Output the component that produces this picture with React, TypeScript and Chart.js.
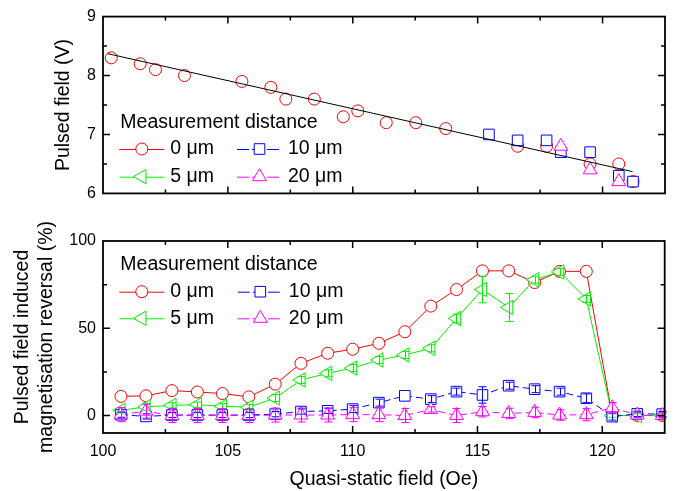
import React, { useEffect, useRef } from 'react';
import { Chart, registerables } from 'chart.js';
import { drawPoint } from 'chart.js/helpers';

Chart.register(...registerables);

const FONT = '"Liberation Sans", Arial, Helvetica, sans-serif';

// ---------- ticks ----------
const xMajorTicks = [100, 105, 110, 115, 120];
const xMinorTicks = [102.5, 107.5, 112.5, 117.5, 122.5];
const topYMajorTicks = [6, 7, 8, 9];
const topYMinorTicks = [6.5, 7.5, 8.5];
const botYMajorTicks = [0, 50, 100];
const botYMinorTicks = [25, 75];

// ---------- labels ----------
const seriesLabels = ['0 μm', '5 μm', '10 μm', '20 μm'];
const legendTitle = 'Measurement distance';
const xTitle = 'Quasi-static field (Oe)';
const topYTitle = 'Pulsed field (V)';
const botYTitle = ['Pulsed field induced', 'magnetisation reversal (%)'];

// ---------- top panel data ----------
const topRedX = [100.33, 101.49, 102.1, 103.26, 105.56, 106.72, 107.32, 108.46, 109.62, 110.2, 111.34, 112.52, 113.72, 116.6, 117.76, 119.5, 120.65, 121.22];
const topRedY = [8.3, 8.2, 8.1, 8.0, 7.9, 7.8, 7.6, 7.6, 7.3, 7.4, 7.2, 7.2, 7.1, 6.8, 6.8, 6.5, 6.5, 6.2];
const topBlueX = [115.45, 116.6, 117.76, 118.33, 119.5, 120.65, 121.22];
const topBlueY = [7.0, 6.9, 6.9, 6.7, 6.7, 6.3, 6.2];
const topMagentaX = [118.33, 119.5, 120.65];
const topMagentaY = [6.8, 6.4, 6.2];
const fitX = [100.2, 121.2];
const fitY = [8.37, 6.37];

// ---------- bottom panel data ----------
const botX = [100.72, 101.72, 102.76, 103.78, 104.78, 105.84, 106.9, 107.93, 109.0, 110.0, 111.05, 112.09, 113.13, 114.16, 115.2, 116.25, 117.29, 118.29, 119.36, 120.4, 121.4, 122.4];
const botRed = [11, 11.3, 14.3, 13.5, 12.6, 10.7, 18, 29.9, 35.7, 38, 41.4, 48, 62.7, 72.2, 82.9, 82.9, 76.2, 82.6, 82.6, 0, 0, 0];
const botGreen = [3, 5, 5.8, 6.2, 5.3, 4.8, 10, 20.4, 24.2, 27.2, 31.8, 34.7, 38.5, 55.6, 72.2, 61.9, 77.8, 82.3, 66.8, 0, 0, 0];
const botBlue = [0.5, -0.5, 0.3, 0.3, 0.3, 0.3, 0.8, 2.3, 2.7, 3.7, 7.4, 11.3, 9.4, 13.7, 11.8, 17.1, 15.1, 13.7, 9.9, -0.6, 1.0, 0.8];
const botMagenta = [0.5, 2.5, 0, 0, 0, 0, 0.3, 0.3, 0.3, 0.5, 0.5, 0, 3.5, 0, 2.2, 1.2, 1.8, 0.3, 0.5, 4.5, 0.3, 0];
const botGreenErr = [1.5, 2, 1.5, 1.5, 1.5, 1.5, 2, 2, 2, 2, 2, 2, 2, 2.5, 7.6, 8, 2, 2, 2, 1, 1, 1];
const botBlueErr = [1.5, 1.5, 1.5, 1.5, 1.5, 1.5, 1.5, 1.5, 1.5, 2, 2, 0, 2, 2, 4.7, 2, 2, 2, 2.5, 2, 1.5, 1.5];
const botMagentaErr = [4, 4, 4, 4, 4, 4, 4, 4, 4, 4, 4, 4, 1.5, 4, 3, 3, 3, 3, 3.5, 3, 1.5, 1.5];

const seriesStyles = [
  { color: '#ff0000', pointStyle: 'circle', radius: 6, rotation: 0, dash: [] as number[], legendDash: [] as number[] },
  { color: '#00f000', pointStyle: 'triangle', radius: 8.3, rotation: -90, dash: [] as number[], legendDash: [] as number[] },
  { color: '#0000ff', pointStyle: 'rect', radius: 7.5, rotation: 0, dash: [7, 4], legendDash: [12, 3] },
  { color: '#ff00ff', pointStyle: 'triangle', radius: 8, rotation: 0, dash: [7, 4], legendDash: [12, 3] },
];
const legendGrid = [0, 2, 1, 3];

const errorBarPlugin = {
  id: 'errorBars',
  afterDatasetsDraw(chart: any) {
    const { ctx, scales } = chart;
    ctx.save();
    chart.data.datasets.forEach((ds: any) => {
      if (!ds.errorBars) return;
      ctx.strokeStyle = ds.borderColor;
      ctx.lineWidth = 1;
      ctx.setLineDash([]);
      ds.data.forEach((p: any, i: number) => {
        const e = ds.errorBars[i];
        if (!e) return;
        const px = Math.round(scales.x.getPixelForValue(p.x)) + 0.5;
        const yt = scales.y.getPixelForValue(p.y + e);
        const yb = scales.y.getPixelForValue(p.y - e);
        ctx.beginPath();
        ctx.moveTo(px, yt); ctx.lineTo(px, yb);
        ctx.moveTo(px - 4, yt); ctx.lineTo(px + 4, yt);
        ctx.moveTo(px - 4, yb); ctx.lineTo(px + 4, yb);
        ctx.stroke();
      });
    });
    ctx.restore();
  },
};

const legendPlugin = {
  id: 'customLegend',
  afterDatasetsDraw(chart: any, _args: any, opts: any) {
    if (!opts || !opts.show) return;
    const ctx = chart.ctx;
    ctx.save();
    ctx.font = `19.5px ${FONT}`;
    ctx.textBaseline = 'middle';
    ctx.textAlign = 'left';
    ctx.fillStyle = '#000';
    ctx.fillText(legendTitle, opts.x + 1, opts.titleY);
    legendGrid.forEach((idx, k) => {
      const col = k % 2;
      const row = Math.floor(k / 2);
      const x0 = opts.x + col * opts.colGap;
      const y0 = opts.rowY[row];
      const st = seriesStyles[idx];
      ctx.strokeStyle = st.color;
      ctx.lineWidth = 1;
      ctx.setLineDash(st.legendDash);
      ctx.beginPath();
      ctx.moveTo(x0, y0 + 0.5);
      ctx.lineTo(x0 + 45, y0 + 0.5);
      ctx.stroke();
      ctx.setLineDash([]);
      ctx.fillStyle = '#ffffff';
      drawPoint(ctx, { pointStyle: st.pointStyle, radius: st.radius, rotation: st.rotation, borderWidth: 1 } as any, x0 + 22.5, y0);
      ctx.fillStyle = '#000';
      ctx.fillText(seriesLabels[idx], x0 + 51, y0);
    });
    ctx.restore();
  },
};

const frameTicksPlugin = {
  id: 'frameTicks',
  afterDraw(chart: any, _args: any, opts: any) {
    const { ctx, chartArea: a, scales } = chart;
    ctx.save();
    ctx.strokeStyle = '#000';
    ctx.setLineDash([]);
    ctx.lineWidth = 1.5;
    const xt = (vals: number[], len: number) => {
      vals.forEach((v) => {
        if (v <= scales.x.min || v >= scales.x.max) return;
        const px = scales.x.getPixelForValue(v);
        ctx.beginPath();
        ctx.moveTo(px, a.bottom); ctx.lineTo(px, a.bottom - len);
        ctx.moveTo(px, a.top); ctx.lineTo(px, a.top + len);
        ctx.stroke();
      });
    };
    const yt = (vals: number[], len: number) => {
      vals.forEach((v) => {
        if (v <= scales.y.min || v >= scales.y.max) return;
        const py = scales.y.getPixelForValue(v);
        ctx.beginPath();
        ctx.moveTo(a.left, py); ctx.lineTo(a.left + len, py);
        ctx.moveTo(a.right, py); ctx.lineTo(a.right - len, py);
        ctx.stroke();
      });
    };
    xt(opts.xMajor, 7); xt(opts.xMinor, 4);
    yt(opts.yMajor, 7); yt(opts.yMinor, 4);
    ctx.lineWidth = 1.8;
    ctx.strokeRect(a.left, a.top, a.right - a.left, a.bottom - a.top);
    ctx.restore();
  },
};

function pts(xs: number[], ys: number[]) {
  return xs.map((x, i) => ({ x, y: ys[i] }));
}

function seriesDataset(idx: number, data: any[], showLine: boolean, errs?: number[]) {
  const st = seriesStyles[idx];
  return {
    label: seriesLabels[idx],
    data,
    showLine,
    borderColor: st.color,
    backgroundColor: '#ffffff',
    borderWidth: 1,
    borderDash: st.dash,
    pointStyle: st.pointStyle,
    pointRadius: st.radius,
    pointRotation: st.rotation,
    pointBorderColor: st.color,
    pointBackgroundColor: '#ffffff',
    pointBorderWidth: 1,
    order: 10 - idx,
    errorBars: errs,
  };
}

function makeOptions(cfg: any) {
  return {
    responsive: false,
    animation: false,
    devicePixelRatio: 1,
    layout: { padding: { left: 0, right: 8, top: cfg.padTop, bottom: 0 } },
    plugins: {
      legend: { display: false },
      tooltip: { enabled: false },
      customLegend: cfg.legend,
      frameTicks: { xMajor: xMajorTicks, xMinor: xMinorTicks, yMajor: cfg.yMajor, yMinor: cfg.yMinor },
    },
    scales: {
      x: {
        type: 'linear',
        min: 100,
        max: 122.5,
        grid: { display: false, drawTicks: false },
        border: { display: false },
        afterBuildTicks: (s: any) => { s.ticks = [...xMajorTicks, ...xMinorTicks].sort((p, q) => p - q).map((v) => ({ value: v })); },
        afterFit: (s: any) => { s.height = cfg.xHeight; },
        ticks: {
          display: cfg.showXLabels,
          autoSkip: false,
          maxRotation: 0,
          padding: 9,
          color: '#000',
          font: { family: FONT, size: 16 },
          callback: (v: number) => (xMajorTicks.includes(v) ? String(v) : ''),
        },
        title: {
          display: cfg.showXLabels,
          text: xTitle,
          color: '#000',
          font: { family: FONT, size: 19.5, lineHeight: 1.2 },
          padding: { top: 0, bottom: 0 },
        },
      },
      y: {
        type: 'linear',
        min: cfg.yMin,
        max: cfg.yMax,
        grid: { display: false, drawTicks: false },
        border: { display: false },
        afterBuildTicks: (s: any) => { s.ticks = [...cfg.yMajor, ...cfg.yMinor].sort((p: number, q: number) => p - q).map((v: number) => ({ value: v })); },
        afterFit: (s: any) => { s.width = 103; },
        ticks: {
          autoSkip: false,
          padding: 7,
          color: '#000',
          font: { family: FONT, size: 16 },
          callback: (v: number) => (cfg.yMajor.includes(v) ? String(v) : ''),
        },
        title: {
          display: true,
          text: cfg.yTitle,
          color: '#000',
          font: { family: FONT, size: 19.5, lineHeight: cfg.yTitleLH },
          padding: { top: cfg.yTitlePad, bottom: 0 },
        },
      },
    },
  };
}

export default function App() {
  const topRef = useRef<HTMLCanvasElement>(null);
  const botRef = useRef<HTMLCanvasElement>(null);

  useEffect(() => {
    const plugins = [errorBarPlugin, legendPlugin, frameTicksPlugin];
    const top = new Chart(topRef.current as HTMLCanvasElement, {
      type: 'scatter',
      data: {
        datasets: [
          {
            label: 'fit',
            data: pts(fitX, fitY),
            showLine: true,
            borderColor: '#000',
            borderWidth: 1,
            pointRadius: 0,
            order: 0,
          } as any,
          seriesDataset(0, pts(topRedX, topRedY), false),
          seriesDataset(2, pts(topBlueX, topBlueY), false),
          seriesDataset(3, pts(topMagentaX, topMagentaY), false),
        ],
      },
      options: makeOptions({
        padTop: 13,
        xHeight: 7,
        showXLabels: false,
        yMin: 6,
        yMax: 9,
        yMajor: topYMajorTicks,
        yMinor: topYMinorTicks,
        yTitle: topYTitle,
        yTitleLH: 1.2,
        yTitlePad: 52,
        legend: { show: true, x: 119.3, colGap: 117.7, titleY: 122.7, rowY: [149, 176.7] },
      }) as any,
      plugins,
    });
    const bot = new Chart(botRef.current as HTMLCanvasElement, {
      type: 'scatter',
      data: {
        datasets: [
          seriesDataset(0, pts(botX, botRed), true),
          seriesDataset(1, pts(botX, botGreen), true, botGreenErr),
          seriesDataset(2, pts(botX, botBlue), true, botBlueErr),
          seriesDataset(3, pts(botX, botMagenta), true, botMagentaErr),
        ],
      },
      options: makeOptions({
        padTop: 31,
        xHeight: 58,
        showXLabels: true,
        yMin: -10,
        yMax: 100,
        yMajor: botYMajorTicks,
        yMinor: botYMinorTicks,
        yTitle: botYTitle,
        yTitleLH: 24 / 19.5,
        yTitlePad: 11,
        legend: { show: true, x: 119.3, colGap: 118.5, titleY: 54.3, rowY: [81.7, 108.3] },
      }) as any,
      plugins,
    });
    return () => {
      top.destroy();
      bot.destroy();
    };
  }, []);

  return (
    <div style={{ position: 'absolute', left: 0, top: 0, width: 674, height: 491, background: '#fff' }}>
      <canvas ref={botRef} width={674} height={281} style={{ position: 'absolute', left: 0, top: 210, width: 674, height: 281 }} />
      <canvas ref={topRef} width={674} height={210} style={{ position: 'absolute', left: 0, top: 0, width: 674, height: 210 }} />
    </div>
  );
}
